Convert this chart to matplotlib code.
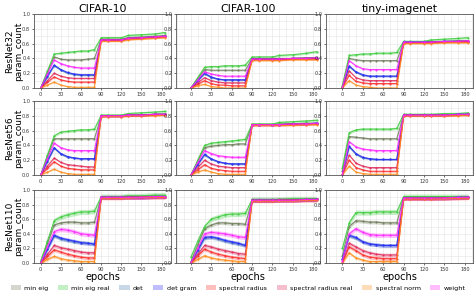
import matplotlib
matplotlib.use("Agg")
import matplotlib.pyplot as plt
from matplotlib.patches import Patch
from matplotlib.ticker import MultipleLocator

epochs = [0, 10, 20, 30, 40, 50, 60, 70, 80, 90, 100, 120, 130, 150, 170, 185]

series_names = ["min eig", "min eig real", "det", "det gram", "spectral radius",
                "spectral radius real", "spectral norm", "weight"]
line_colors = ["#6f7d5c", "#3ccc3c", "#4a7fb0", "#2a2aff", "#ff2a2a",
               "#e02a5a", "#ff8c1a", "#ff22ff"]
datasets = ["CIFAR-10", "CIFAR-100", "tiny-imagenet"]
models = ["ResNet32", "ResNet56", "ResNet110"]

# order: min eig, min eig real, det, det gram, spectral radius, spectral radius real, spectral norm, weight
r32_c10 = [
    [0.00, 0.21, 0.42, 0.39, 0.38, 0.38, 0.38, 0.39, 0.40, 0.66, 0.66, 0.66, 0.68, 0.69, 0.70, 0.71],
    [0.00, 0.23, 0.46, 0.47, 0.48, 0.49, 0.50, 0.50, 0.52, 0.68, 0.68, 0.68, 0.71, 0.72, 0.73, 0.75],
    [0.00, 0.15, 0.30, 0.24, 0.20, 0.18, 0.17, 0.17, 0.17, 0.65, 0.65, 0.65, 0.67, 0.68, 0.69, 0.70],
    [0.00, 0.16, 0.31, 0.25, 0.21, 0.19, 0.18, 0.18, 0.18, 0.65, 0.65, 0.65, 0.67, 0.68, 0.69, 0.70],
    [0.00, 0.08, 0.15, 0.11, 0.09, 0.08, 0.08, 0.08, 0.08, 0.64, 0.64, 0.64, 0.66, 0.67, 0.68, 0.69],
    [0.00, 0.10, 0.20, 0.16, 0.14, 0.13, 0.13, 0.13, 0.13, 0.65, 0.65, 0.65, 0.67, 0.68, 0.69, 0.70],
    [0.00, 0.04, 0.08, 0.04, 0.02, 0.01, 0.01, 0.01, 0.01, 0.63, 0.63, 0.63, 0.65, 0.66, 0.67, 0.68],
    [0.00, 0.19, 0.38, 0.33, 0.30, 0.28, 0.27, 0.27, 0.27, 0.65, 0.65, 0.65, 0.67, 0.68, 0.69, 0.70],
]
r32_c100 = [
    [0.00, 0.13, 0.25, 0.24, 0.24, 0.24, 0.24, 0.24, 0.24, 0.40, 0.40, 0.40, 0.40, 0.40, 0.41, 0.41],
    [0.00, 0.14, 0.28, 0.29, 0.29, 0.30, 0.30, 0.30, 0.31, 0.42, 0.42, 0.42, 0.44, 0.45, 0.47, 0.49],
    [0.00, 0.10, 0.19, 0.14, 0.12, 0.11, 0.11, 0.11, 0.11, 0.39, 0.39, 0.39, 0.39, 0.40, 0.40, 0.40],
    [0.00, 0.10, 0.20, 0.15, 0.12, 0.11, 0.11, 0.11, 0.11, 0.39, 0.39, 0.39, 0.39, 0.40, 0.40, 0.40],
    [0.00, 0.05, 0.10, 0.06, 0.04, 0.04, 0.03, 0.03, 0.03, 0.38, 0.38, 0.38, 0.38, 0.39, 0.39, 0.39],
    [0.00, 0.07, 0.14, 0.10, 0.08, 0.07, 0.07, 0.07, 0.07, 0.39, 0.39, 0.39, 0.39, 0.40, 0.40, 0.40],
    [0.00, 0.03, 0.05, 0.02, 0.01, 0.00, 0.00, 0.00, 0.00, 0.37, 0.37, 0.37, 0.37, 0.38, 0.38, 0.38],
    [0.00, 0.11, 0.22, 0.19, 0.17, 0.16, 0.16, 0.16, 0.16, 0.39, 0.39, 0.39, 0.39, 0.40, 0.40, 0.41],
]
r32_tiny = [
    [0.02, 0.40, 0.38, 0.37, 0.37, 0.37, 0.37, 0.37, 0.37, 0.62, 0.62, 0.62, 0.63, 0.63, 0.64, 0.64],
    [0.03, 0.44, 0.45, 0.46, 0.46, 0.47, 0.47, 0.47, 0.48, 0.63, 0.63, 0.63, 0.65, 0.66, 0.67, 0.68],
    [0.00, 0.29, 0.21, 0.17, 0.16, 0.16, 0.16, 0.16, 0.16, 0.62, 0.62, 0.62, 0.62, 0.63, 0.63, 0.63],
    [0.00, 0.30, 0.22, 0.18, 0.16, 0.16, 0.16, 0.16, 0.16, 0.62, 0.62, 0.62, 0.62, 0.63, 0.63, 0.63],
    [0.00, 0.17, 0.09, 0.07, 0.06, 0.06, 0.06, 0.06, 0.06, 0.61, 0.61, 0.61, 0.61, 0.62, 0.62, 0.62],
    [0.00, 0.23, 0.14, 0.11, 0.10, 0.10, 0.10, 0.10, 0.10, 0.61, 0.61, 0.61, 0.62, 0.62, 0.63, 0.63],
    [0.00, 0.10, 0.04, 0.02, 0.01, 0.00, 0.00, 0.00, 0.00, 0.60, 0.60, 0.60, 0.60, 0.61, 0.61, 0.61],
    [0.00, 0.37, 0.30, 0.26, 0.25, 0.25, 0.25, 0.25, 0.25, 0.62, 0.62, 0.62, 0.62, 0.63, 0.63, 0.64],
]
r56_c10 = [
    [0.00, 0.25, 0.49, 0.49, 0.49, 0.49, 0.49, 0.49, 0.49, 0.80, 0.80, 0.80, 0.81, 0.81, 0.82, 0.82],
    [0.00, 0.27, 0.53, 0.58, 0.59, 0.60, 0.61, 0.61, 0.62, 0.81, 0.81, 0.81, 0.83, 0.84, 0.85, 0.86],
    [0.00, 0.18, 0.36, 0.28, 0.24, 0.23, 0.22, 0.22, 0.22, 0.80, 0.80, 0.80, 0.81, 0.81, 0.82, 0.82],
    [0.00, 0.19, 0.37, 0.29, 0.25, 0.23, 0.22, 0.22, 0.22, 0.80, 0.80, 0.80, 0.81, 0.81, 0.82, 0.82],
    [0.00, 0.09, 0.18, 0.12, 0.09, 0.08, 0.07, 0.07, 0.07, 0.79, 0.79, 0.79, 0.80, 0.80, 0.81, 0.81],
    [0.00, 0.12, 0.23, 0.17, 0.14, 0.13, 0.12, 0.11, 0.11, 0.80, 0.80, 0.80, 0.81, 0.81, 0.82, 0.82],
    [0.00, 0.04, 0.08, 0.04, 0.02, 0.01, 0.01, 0.01, 0.01, 0.79, 0.79, 0.79, 0.80, 0.80, 0.80, 0.81],
    [0.00, 0.22, 0.43, 0.37, 0.34, 0.33, 0.33, 0.33, 0.33, 0.80, 0.80, 0.80, 0.81, 0.81, 0.82, 0.82],
]
r56_c100 = [
    [0.00, 0.19, 0.37, 0.39, 0.40, 0.41, 0.41, 0.42, 0.42, 0.68, 0.68, 0.68, 0.69, 0.69, 0.70, 0.70],
    [0.00, 0.20, 0.40, 0.43, 0.44, 0.45, 0.46, 0.47, 0.48, 0.69, 0.69, 0.69, 0.71, 0.72, 0.73, 0.74],
    [0.00, 0.14, 0.27, 0.21, 0.18, 0.16, 0.15, 0.15, 0.15, 0.68, 0.68, 0.68, 0.68, 0.69, 0.69, 0.70],
    [0.00, 0.14, 0.28, 0.22, 0.18, 0.16, 0.15, 0.15, 0.15, 0.68, 0.68, 0.68, 0.68, 0.69, 0.69, 0.70],
    [0.00, 0.07, 0.14, 0.09, 0.07, 0.06, 0.05, 0.05, 0.05, 0.67, 0.67, 0.67, 0.67, 0.68, 0.68, 0.69],
    [0.00, 0.10, 0.20, 0.15, 0.12, 0.11, 0.10, 0.10, 0.10, 0.68, 0.68, 0.68, 0.68, 0.69, 0.69, 0.69],
    [0.00, 0.04, 0.07, 0.04, 0.02, 0.01, 0.01, 0.01, 0.01, 0.67, 0.67, 0.67, 0.67, 0.67, 0.68, 0.68],
    [0.00, 0.17, 0.33, 0.29, 0.26, 0.25, 0.24, 0.24, 0.24, 0.68, 0.68, 0.68, 0.68, 0.69, 0.69, 0.70],
]
r56_tiny = [
    [0.05, 0.52, 0.51, 0.50, 0.49, 0.49, 0.49, 0.49, 0.49, 0.81, 0.81, 0.81, 0.81, 0.81, 0.82, 0.82],
    [0.10, 0.57, 0.61, 0.62, 0.62, 0.62, 0.62, 0.62, 0.63, 0.82, 0.82, 0.82, 0.82, 0.83, 0.83, 0.84],
    [0.00, 0.38, 0.28, 0.23, 0.22, 0.21, 0.21, 0.21, 0.21, 0.81, 0.81, 0.81, 0.81, 0.81, 0.82, 0.82],
    [0.00, 0.39, 0.29, 0.24, 0.22, 0.21, 0.21, 0.21, 0.21, 0.81, 0.81, 0.81, 0.81, 0.81, 0.82, 0.82],
    [0.00, 0.20, 0.10, 0.07, 0.05, 0.05, 0.05, 0.05, 0.05, 0.80, 0.80, 0.80, 0.80, 0.80, 0.81, 0.81],
    [0.00, 0.27, 0.16, 0.12, 0.10, 0.10, 0.10, 0.10, 0.10, 0.81, 0.81, 0.81, 0.81, 0.81, 0.81, 0.82],
    [0.00, 0.12, 0.04, 0.02, 0.01, 0.01, 0.01, 0.01, 0.01, 0.80, 0.80, 0.80, 0.80, 0.80, 0.80, 0.81],
    [0.00, 0.45, 0.38, 0.35, 0.34, 0.33, 0.33, 0.33, 0.33, 0.81, 0.81, 0.81, 0.81, 0.81, 0.82, 0.82],
]
r110_c10 = [
    [0.00, 0.27, 0.52, 0.55, 0.56, 0.56, 0.55, 0.55, 0.56, 0.90, 0.90, 0.90, 0.91, 0.91, 0.91, 0.91],
    [0.03, 0.30, 0.58, 0.63, 0.66, 0.68, 0.70, 0.70, 0.71, 0.91, 0.91, 0.91, 0.92, 0.92, 0.93, 0.93],
    [0.00, 0.19, 0.37, 0.33, 0.31, 0.29, 0.28, 0.27, 0.26, 0.90, 0.90, 0.90, 0.90, 0.90, 0.91, 0.91],
    [0.00, 0.19, 0.38, 0.34, 0.32, 0.30, 0.28, 0.27, 0.26, 0.90, 0.90, 0.90, 0.90, 0.90, 0.91, 0.91],
    [0.00, 0.09, 0.18, 0.15, 0.12, 0.10, 0.08, 0.07, 0.07, 0.89, 0.89, 0.89, 0.90, 0.90, 0.90, 0.90],
    [0.00, 0.12, 0.24, 0.21, 0.19, 0.17, 0.15, 0.14, 0.14, 0.90, 0.90, 0.90, 0.90, 0.90, 0.91, 0.91],
    [0.00, 0.05, 0.09, 0.06, 0.04, 0.03, 0.02, 0.02, 0.02, 0.89, 0.89, 0.89, 0.89, 0.90, 0.90, 0.90],
    [0.00, 0.22, 0.43, 0.46, 0.45, 0.43, 0.40, 0.39, 0.38, 0.90, 0.90, 0.90, 0.90, 0.90, 0.91, 0.91],
]
r110_c100 = [
    [0.02, 0.25, 0.47, 0.52, 0.55, 0.55, 0.54, 0.54, 0.53, 0.86, 0.86, 0.86, 0.87, 0.87, 0.87, 0.87],
    [0.08, 0.30, 0.50, 0.60, 0.63, 0.66, 0.67, 0.67, 0.68, 0.87, 0.87, 0.87, 0.87, 0.88, 0.88, 0.88],
    [0.00, 0.17, 0.34, 0.35, 0.33, 0.30, 0.28, 0.26, 0.24, 0.86, 0.86, 0.86, 0.86, 0.86, 0.87, 0.87],
    [0.00, 0.18, 0.35, 0.36, 0.34, 0.31, 0.29, 0.27, 0.24, 0.86, 0.86, 0.86, 0.86, 0.86, 0.87, 0.87],
    [0.00, 0.10, 0.19, 0.15, 0.12, 0.10, 0.08, 0.07, 0.06, 0.85, 0.85, 0.85, 0.86, 0.86, 0.86, 0.86],
    [0.00, 0.12, 0.24, 0.22, 0.19, 0.17, 0.15, 0.13, 0.12, 0.86, 0.86, 0.86, 0.86, 0.86, 0.87, 0.87],
    [0.00, 0.05, 0.10, 0.07, 0.05, 0.04, 0.03, 0.02, 0.02, 0.85, 0.85, 0.85, 0.85, 0.85, 0.86, 0.86],
    [0.00, 0.20, 0.40, 0.42, 0.41, 0.40, 0.38, 0.36, 0.35, 0.86, 0.86, 0.86, 0.86, 0.86, 0.87, 0.87],
]
r110_tiny = [
    [0.10, 0.50, 0.58, 0.57, 0.56, 0.56, 0.55, 0.55, 0.55, 0.90, 0.90, 0.90, 0.90, 0.90, 0.90, 0.90],
    [0.20, 0.55, 0.69, 0.69, 0.69, 0.70, 0.70, 0.70, 0.70, 0.91, 0.91, 0.91, 0.91, 0.91, 0.91, 0.91],
    [0.05, 0.37, 0.34, 0.29, 0.26, 0.25, 0.24, 0.24, 0.24, 0.89, 0.89, 0.89, 0.89, 0.89, 0.90, 0.90],
    [0.05, 0.38, 0.35, 0.29, 0.26, 0.25, 0.24, 0.24, 0.24, 0.89, 0.89, 0.89, 0.89, 0.89, 0.90, 0.90],
    [0.00, 0.22, 0.17, 0.11, 0.08, 0.07, 0.06, 0.06, 0.06, 0.88, 0.88, 0.88, 0.88, 0.89, 0.89, 0.89],
    [0.00, 0.27, 0.22, 0.17, 0.14, 0.12, 0.11, 0.11, 0.11, 0.89, 0.89, 0.89, 0.89, 0.89, 0.89, 0.90],
    [0.00, 0.14, 0.07, 0.04, 0.02, 0.02, 0.02, 0.02, 0.02, 0.88, 0.88, 0.88, 0.88, 0.88, 0.89, 0.89],
    [0.03, 0.40, 0.47, 0.42, 0.39, 0.38, 0.38, 0.38, 0.38, 0.89, 0.89, 0.89, 0.89, 0.89, 0.90, 0.90],
]

# band half-widths per series, per model row
band_r32 = [0.012, 0.015, 0.010, 0.010, 0.010, 0.010, 0.008, 0.012]
band_r56 = [0.015, 0.018, 0.012, 0.012, 0.012, 0.012, 0.010, 0.015]
band_r110 = [0.025, 0.035, 0.025, 0.025, 0.025, 0.025, 0.020, 0.030]

panels = [[r32_c10, r32_c100, r32_tiny],
          [r56_c10, r56_c100, r56_tiny],
          [r110_c10, r110_c100, r110_tiny]]
bands = [band_r32, band_r56, band_r110]

W, H = 476, 293
fig = plt.figure(figsize=(W / 100, H / 100), dpi=100)

col_px = [(34, 171), (176, 320), (326, 473)]
xlims = [(-10, 194), (-22, 190), (-24, 192)]
row_px = [(14, 88), (101, 175), (190, 263)]

for r in range(3):
    for c in range(3):
        x0, x1 = col_px[c]
        y0, y1 = row_px[r]
        ax = fig.add_axes([x0 / W, 1 - y1 / H, (x1 - x0) / W, (y1 - y0) / H])
        data = panels[r][c]
        for s in range(8):
            vals = data[s]
            bw = bands[r][s]
            lo = [v - bw for v in vals]
            hi = [v + bw for v in vals]
            ax.fill_between(epochs, lo, hi, color=line_colors[s], alpha=0.3, lw=0)
            ax.plot(epochs, vals, color=line_colors[s], lw=0.8, alpha=0.85,
                    marker='.', ms=1.2)
        ax.set_ylim(0, 1.0)
        ax.set_xlim(*xlims[c])
        ax.xaxis.set_major_locator(MultipleLocator(30))
        ax.xaxis.set_minor_locator(MultipleLocator(10))
        ax.yaxis.set_major_locator(MultipleLocator(0.2))
        ax.yaxis.set_minor_locator(MultipleLocator(0.1))
        ax.grid(True, which='both', color='#e4e4e4', lw=0.4)
        ax.set_axisbelow(True)
        ax.tick_params(which='major', labelsize=3.6, length=1.5, width=0.5, pad=1.2, colors='#333333')
        ax.tick_params(which='minor', length=0)
        for sp in ax.spines.values():
            sp.set_color('#555555')
            sp.set_linewidth(0.6)
        if r == 0:
            ax.set_title(datasets[c], fontsize=7.8, pad=1.5)
        if c == 0:
            ax.set_ylabel(models[r] + "\nparam_count", fontsize=6.5, linespacing=1.05)
            ax.yaxis.set_label_coords(-10.5 / (x1 - x0), 0.5)
        if r == 2:
            ax.set_xlabel("epochs", fontsize=7, labelpad=0)

handles = [Patch(facecolor=line_colors[s], alpha=0.3, edgecolor='none') for s in range(8)]
fig.legend(handles, series_names, loc='lower center', bbox_to_anchor=(0.5, -0.012),
           ncol=8, fontsize=4.6, frameon=False, handlelength=1.6, handleheight=0.7,
           columnspacing=1.5, handletextpad=0.5)

fig.savefig("out.png", dpi=100)
